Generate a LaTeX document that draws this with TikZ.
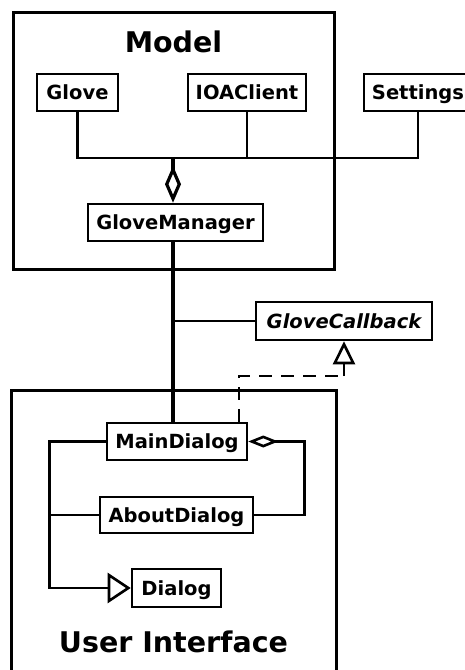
\documentclass[tikz,border=0pt]{standalone}
\usepackage{fontspec}
\setmainfont{DejaVu Sans}
\usetikzlibrary{arrows.meta,calc}
\begin{document}
\begin{tikzpicture}[x=1pt,y=-1pt,
  cls/.style={draw,line width=2.6pt,fill=white,inner sep=0pt,
    font=\fontsize{19.5}{20}\selectfont\bfseries,
    text height=14.2pt,text depth=0pt,minimum height=37pt},
  frame/.style={draw,line width=3pt},
  title/.style={font=\fontsize{28.5}{30}\selectfont\bfseries,anchor=base,inner sep=0pt},
  conn/.style={line width=2.6pt},
  thickconn/.style={line width=3.2pt},
  dashedconn/.style={line width=2.6pt,dash pattern=on 13pt off 9pt}
]
\clip (0,0) rectangle (465,670);
\fill[white] (0,0) rectangle (465,670);
% frames
\draw[frame] (13,12) rectangle (334,269);
\draw[frame] (11,390) rectangle (336,700);
% titles
\node[title] (modelt) at (173.5,52) {Model};
\node[title] (uit) at (173.5,652) {User Interface};
\coordinate (jx) at (173,158);
\coordinate (rc) at (344,376);
% classes
\node[cls,minimum width=81pt] (glove) at (77.5,92.5) {Glove};
\node[cls,minimum width=118pt] (ioa) at (247,92.5) {IOAClient};
\node[cls,minimum width=108pt] (settings) at (418,92.5) {Settings};
\node[cls,minimum width=175pt] (gm) at (175.5,222.5) {GloveManager};
\node[cls,minimum width=176pt,minimum height=38pt] (gcb) at (344,321) {\itshape GloveCallback};
\node[cls,minimum width=140pt] (md) at (177,441.5) {MainDialog};
\node[cls,minimum width=153pt,minimum height=36pt] (ad) at (176.5,515) {AboutDialog};
\node[cls,minimum width=89pt,minimum height=38pt] (dlg) at (176.5,588) {Dialog};
\coordinate (bus) at ([xshift=-81pt]dlg.west);
% aggregation to GloveManager
\draw[conn] (glove.south) |- (settings.south |- jx) -- (settings.south);
\draw[conn] (ioa.south) -- (ioa.south |- jx);
\draw[thickconn,-{Diamond[open,length=37pt,width=16pt]}] (jx) -- (jx |- gm.north);
\draw[thickconn] (jx |- gm.south) -- (jx |- md.north);
\draw[conn] (jx |- gcb.west) -- (gcb.west);
% realization
\draw[dashedconn] ([xshift=62pt]md.north) |- (rc);
\draw[conn,-{Triangle[open,length=23pt,width=22pt]}] (rc) -- (gcb.south);
% aggregation MainDialog -> AboutDialog
\draw[conn,{Diamond[open,length=30pt,width=12pt]}-] (md.east) -| ([xshift=50pt]ad.east) -- (ad.east);
% generalization
\draw[conn,-{Triangle[open,length=23pt,width=30pt]}] (md.west) -| (bus) -- (dlg.west);
\draw[conn] (ad.west) -- (ad.west -| bus);
\end{tikzpicture}
\end{document}
